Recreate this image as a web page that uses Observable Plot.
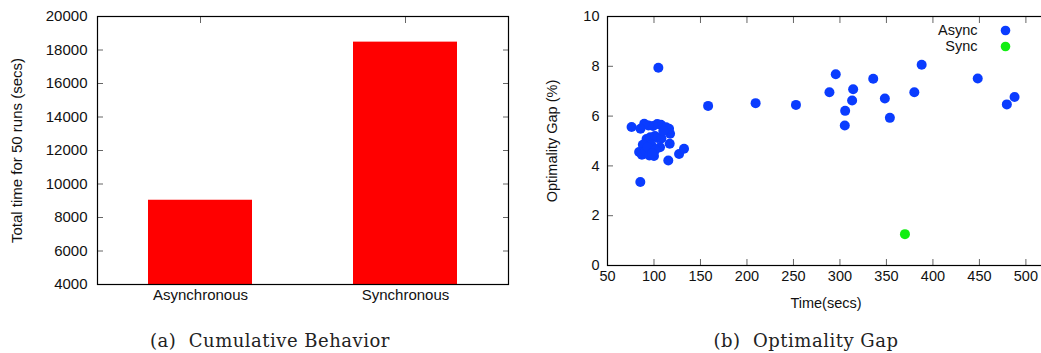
<!DOCTYPE html>
<html>
<head>
<meta charset="utf-8">
<script src="https://cdn.jsdelivr.net/npm/d3@7"></script>
<script src="https://cdn.jsdelivr.net/npm/@observablehq/plot@0.6"></script>
<style>
  html, body { margin: 0; padding: 0; background: #fff; overflow: hidden; }
  #wrap { position: relative; width: 1041px; height: 353px; overflow: hidden; }
  .panel { position: absolute; top: 0; }
  .panel svg { max-width: none !important; }
  .cap { position: absolute; font-family: "DejaVu Serif", "Liberation Serif", serif; font-size: 18px; letter-spacing: 0.5px; color: #222; white-space: pre; transform: translate(-50%, -50%); }
</style>
</head>
<body>
<div id="wrap">
  <div id="left" class="panel" style="left:0px; width:520px"></div>
  <div id="right" class="panel" style="left:520px; width:530px"></div>
  <div class="cap" style="left:270px; top:340px">(a)  Cumulative Behavior</div>
  <div class="cap" style="left:806px; top:340px">(b)  Optimality Gap</div>
</div>
<script>
// ---- Data: (a) Cumulative Behavior ----
const modes = ["Asynchronous", "Synchronous"];
const totalTime = [9030, 18470];
const barTicks = [4000, 6000, 8000, 10000, 12000, 14000, 16000, 18000, 20000];

// ---- Data: (b) Optimality Gap ----
const asyncTime = [104.7, 158.2, 209.3, 252.7, 288.7, 295.5, 314.2, 313.1, 305.6, 305.2,
  335.8, 348.3, 353.7, 380.0, 387.9, 448.2, 479.5, 487.8,
  75.9, 85.3, 127.0, 132.3, 115.4, 116.9, 117.3, 116.2, 113.0, 107.5, 103.5, 99.0,
  94.0, 89.5, 85.5, 92.0, 96.0, 101.0, 104.0, 108.0, 106.5, 97.0, 88.0, 84.0, 87.0,
  91.0, 95.0, 100.0, 93.0, 101.5, 98.0, 110.0];
const asyncGap = [7.94, 6.41, 6.52, 6.45, 6.96, 7.68, 7.08, 6.63, 6.21, 5.62,
  7.50, 6.71, 5.93, 6.96, 8.06, 7.51, 6.47, 6.77,
  5.56, 3.35, 4.48, 4.69, 4.22, 4.89, 5.29, 5.49, 5.55, 5.65, 5.68, 5.60,
  5.62, 5.69, 5.49, 5.08, 5.15, 5.20, 5.12, 5.10, 4.75, 4.85, 4.85, 4.56, 4.45,
  4.60, 4.42, 4.40, 4.75, 4.65, 4.50, 5.40];
const syncTime = [369.9];
const syncGap = [1.26];
const xTicks = [50, 100, 150, 200, 250, 300, 350, 400, 450, 500];
const yTicks = [0, 2, 4, 6, 8, 10];
const legendLabels = ["Async", "Sync"];
const legendColors = ["#0a3cff", "#11ee11"];

const FONT = "Liberation Sans, Arial, Helvetica, sans-serif";
const TICK = "#666";

// ---- Left chart ----
const bars = modes.map((m, i) => ({mode: m, value: totalTime[i]}));
const left = Plot.plot({
  width: 520, height: 320,
  marginLeft: 97, marginRight: 12, marginTop: 16, marginBottom: 36,
  style: {fontFamily: FONT, fontSize: "15px", color: "#111", background: "transparent"},
  x: {domain: modes, paddingInner: 0.494, paddingOuter: 0.247, axis: null},
  y: {domain: [4000, 20000], axis: null},
  marks: [
    Plot.axisY(barTicks, {anchor: "left", tickSize: 6, dx: 6, stroke: TICK, tickFormat: () => "", label: null}),
    Plot.axisY(barTicks, {anchor: "right", tickSize: 6, dx: -6, stroke: TICK, tickFormat: () => "", label: null}),
    Plot.axisY(barTicks, {anchor: "left", tickSize: 0, tickPadding: 10, tickFormat: d => String(d), fontSize: 15,
      label: "Total time for 50 runs (secs)", labelAnchor: "center", labelOffset: 86, labelArrow: "none"}),
    Plot.axisX({anchor: "top", tickSize: 6, dy: 6, stroke: TICK, tickFormat: () => "", label: null}),
    Plot.axisX({anchor: "bottom", tickSize: 6, dy: -6, stroke: TICK, tickFormat: () => "", label: null}),
    Plot.barY(bars, {x: "mode", y1: 4000, y2: "value", fill: "#ff0000"}),
    Plot.axisX({anchor: "bottom", tickSize: 0, tickPadding: 5, fontSize: 15, label: null}),
    Plot.frame({stroke: "#000", strokeWidth: 1.2})
  ]
});
left.style.maxWidth = "none";
document.getElementById("left").appendChild(left);

// ---- Right chart ----
const asyncPts = asyncTime.map((t, i) => ({t, g: asyncGap[i]}));
const syncPts = syncTime.map((t, i) => ({t, g: syncGap[i]}));
const right = Plot.plot({
  width: 530, height: 320,
  marginLeft: 87, marginRight: 6, marginTop: 16, marginBottom: 55,
  style: {fontFamily: FONT, fontSize: "14.5px", color: "#111", background: "transparent", overflow: "visible"},
  x: {domain: [50, 520], axis: null},
  y: {domain: [0, 10], axis: null},
  marks: [
    Plot.axisY(yTicks, {anchor: "left", tickSize: 6, dx: 6, stroke: TICK, tickFormat: () => "", label: null}),
    Plot.axisY(yTicks, {anchor: "left", tickSize: 0, tickPadding: 8, fontSize: 14.5,
      label: "Optimality Gap (%)", labelAnchor: "center", labelOffset: 61, labelArrow: "none"}),
    Plot.axisX(xTicks, {anchor: "bottom", tickSize: 6, dy: -6, stroke: TICK, tickFormat: () => "", label: null}),
    Plot.axisX(xTicks, {anchor: "top", tickSize: 6, dy: 6, stroke: TICK, tickFormat: () => "", label: null}),
    Plot.axisX(xTicks, {anchor: "bottom", tickSize: 0, tickPadding: 5, fontSize: 14.5,
      label: "Time(secs)", labelAnchor: "center", labelOffset: 42, labelArrow: "none"}),
    Plot.frame({stroke: "#000", strokeWidth: 1.2}),
    Plot.dot(asyncPts, {x: "t", y: "g", r: 5, fill: legendColors[0]}),
    Plot.dot(syncPts, {x: "t", y: "g", r: 5, fill: legendColors[1]}),
    ...legendLabels.map((lab, i) => Plot.text([lab], {text: d => d, frameAnchor: "top-left", dx: 370, dy: 14 + 16 * i, textAnchor: "end", lineAnchor: "middle", fontSize: 14.5, fill: "#111"})),
    ...legendLabels.map((lab, i) => Plot.dot([lab], {frameAnchor: "top-left", dx: 398, dy: 14 + 16 * i, r: 4.8, fill: legendColors[i]}))
  ]
});
right.style.maxWidth = "none";
document.getElementById("right").appendChild(right);
</script>
</body>
</html>
